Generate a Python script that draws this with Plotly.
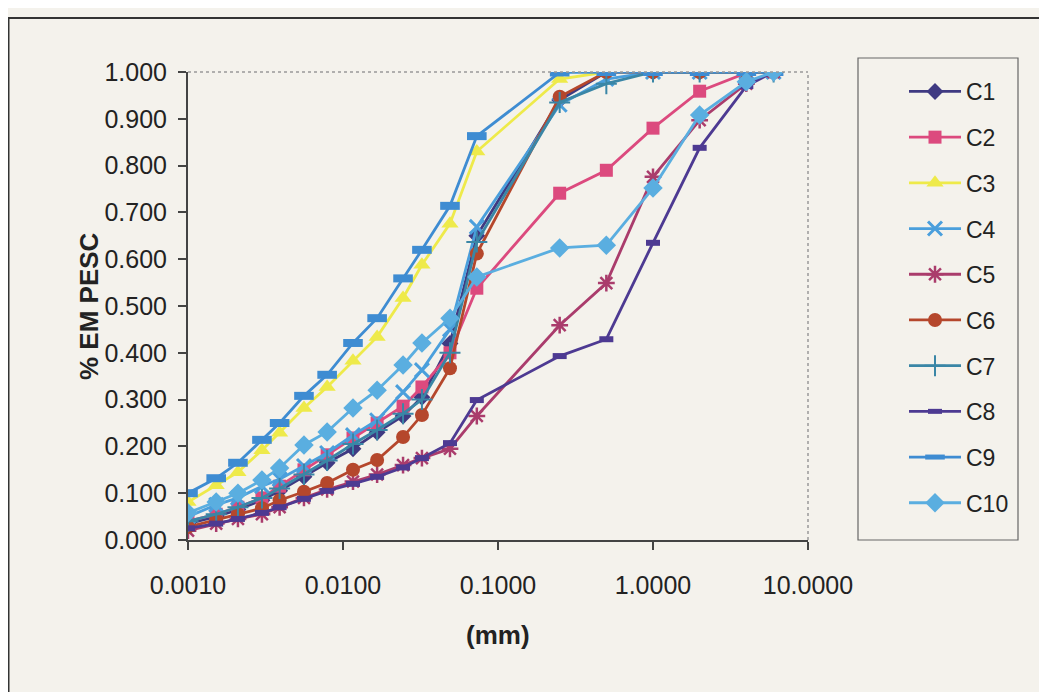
import plotly.graph_objects as go

# grain size (mm): hydrometer readings + sieve sizes
x_mm = [0.001, 0.00152, 0.0021, 0.0030, 0.0039, 0.0056, 0.0079, 0.0116, 0.0166,
        0.0244, 0.0323, 0.049, 0.073, 0.25, 0.5, 1.0, 2.0, 4.0, 6.0]

C1 = [0.035, 0.050, 0.065, 0.085, 0.105, 0.135, 0.165, 0.195, 0.230, 0.265, 0.305, 0.420, 0.650,
      0.940, 1.000, 1.000, 1.000, 1.000, 1.000]
C2 = [0.040, 0.055, 0.070, 0.090, 0.115, 0.150, 0.182, 0.218, 0.250, 0.286, 0.327, 0.400, 0.538,
      0.741, 0.790, 0.880, 0.959, 0.998, 1.000]
C3 = [0.081, 0.117, 0.145, 0.192, 0.229, 0.282, 0.327, 0.383, 0.434, 0.517, 0.588, 0.676, 0.830,
      0.985, 1.000, 1.000, 1.000, 1.000, 1.000]
C4 = [0.050, 0.075, 0.090, 0.115, 0.130, 0.158, 0.186, 0.224, 0.256, 0.316, 0.363, 0.450, 0.669,
      0.930, 0.985, 1.000, 1.000, 1.000, 1.000]
C5 = [0.020, 0.035, 0.045, 0.055, 0.070, 0.090, 0.108, 0.125, 0.140, 0.160, 0.175, 0.195, 0.265,
      0.459, 0.549, 0.776, 0.897, 0.975, 1.000]
C6 = [0.028, 0.043, 0.055, 0.068, 0.085, 0.103, 0.122, 0.150, 0.171, 0.220, 0.267, 0.367, 0.612,
      0.947, 1.000, 1.000, 1.000, 1.000, 1.000]
C7 = [0.040, 0.055, 0.070, 0.090, 0.110, 0.140, 0.170, 0.205, 0.235, 0.270, 0.300, 0.400, 0.637,
      0.935, 0.975, 1.000, 1.000, 1.000, 1.000]
C8 = [0.025, 0.035, 0.045, 0.058, 0.070, 0.088, 0.105, 0.120, 0.135, 0.155, 0.175, 0.207, 0.299,
      0.393, 0.429, 0.635, 0.838, 0.970, 1.000]
C9 = [0.100, 0.132, 0.165, 0.214, 0.250, 0.308, 0.353, 0.421, 0.474, 0.559, 0.620, 0.714, 0.863,
      0.999, 1.000, 1.000, 1.000, 1.000, 1.000]
C10 = [0.058, 0.081, 0.100, 0.128, 0.154, 0.203, 0.231, 0.282, 0.320, 0.374, 0.421, 0.474, 0.562,
       0.624, 0.630, 0.752, 0.908, 0.979, 1.000]

series_names = ["C1", "C2", "C3", "C4", "C5", "C6", "C7", "C8", "C9", "C10"]
series_values = [C1, C2, C3, C4, C5, C6, C7, C8, C9, C10]

x_tick_vals = [0.001, 0.01, 0.1, 1, 10]
x_tick_text = ["0.0010", "0.0100", "0.1000", "1.0000", "10.0000"]
y_tick_vals = [0.0, 0.1, 0.2, 0.3, 0.4, 0.5, 0.6, 0.7, 0.8, 0.9, 1.0]

styles = {
    "C1": dict(color="#3f3a82", symbol="diamond", size=13, lw=0),
    "C2": dict(color="#dc4a7e", symbol="square", size=13, lw=0),
    "C3": dict(color="#eeea4a", symbol="triangle-up", size=15, lw=0),
    "C4": dict(color="#4a9fdc", symbol="x-thin-open", size=14, lw=3),
    "C5": dict(color="#aa3c6c", symbol="asterisk-open", size=14, lw=2.5),
    "C6": dict(color="#b5472c", symbol="circle", size=14, lw=0),
    "C7": dict(color="#3a86a6", symbol="cross-thin-open", size=15, lw=2),
    "C8": dict(color="#4d3a92", symbol="line-ew-open", size=10, lw=6),
    "C9": dict(color="#3e8cd2", symbol="line-ew-open", size=14, lw=8),
    "C10": dict(color="#5aaee0", symbol="diamond", size=15, lw=0),
}

fig = go.Figure()
for name, vals in zip(series_names, series_values):
    st = styles[name]
    fig.add_trace(go.Scatter(
        x=x_mm, y=vals, name=name, mode="lines+markers", legendgroup=name,
        line=dict(color=st["color"], width=2.8),
        marker=dict(symbol=st["symbol"], size=st["size"], color=st["color"],
                    line=dict(color=st["color"], width=st["lw"])),
    ))

bg = "#f4f2ec"
font_family = "Liberation Sans, Arial, sans-serif"

# page body adds an 8px offset; plot area lands at window x 188-808, y 72-540
W, H = 1039, 684
L, T = 180, 64
PW, PH = 620, 468

def px(xw):
    return (xw - 8 - L) / PW

def py(yw):
    return (T + PH - (yw - 8)) / PH

fig.update_layout(
    width=W, height=H,
    margin=dict(l=L, r=W - L - PW, t=T, b=H - T - PH),
    paper_bgcolor=bg, plot_bgcolor=bg,
    font=dict(family=font_family, color="#222", size=24),
    showlegend=True,
    legend=dict(
        x=px(904), y=py(70), xanchor="left", yanchor="top",
        bgcolor="rgba(0,0,0,0)", borderwidth=0,
        font=dict(size=23, color="#222"),
        tracegroupgap=12.8, itemwidth=52, maxheight=640,
    ),
    xaxis=dict(
        type="log", range=[-3, 1], tickvals=x_tick_vals, ticktext=x_tick_text,
        showgrid=False, zeroline=False, showline=True, linecolor="#444", linewidth=2,
        ticks="outside", ticklen=8, tickcolor="#444", tickwidth=2,
        ticklabelstandoff=14, tickfont=dict(size=25),
    ),
    yaxis=dict(
        range=[0, 1], tickvals=y_tick_vals, tickformat=".3f",
        showgrid=False, zeroline=False, showline=True, linecolor="#444", linewidth=2,
        ticks="outside", ticklen=8, tickcolor="#444", tickwidth=2,
        ticklabelstandoff=6, tickfont=dict(size=25),
    ),
    annotations=[
        dict(text="<b>% EM PESC</b>", xref="paper", yref="paper", x=px(89), y=py(306),
             xanchor="center", yanchor="middle",
             textangle=-90, showarrow=False, font=dict(size=26)),
        dict(text="<b>(mm)</b>", xref="paper", yref="paper", x=px(498), y=py(635),
             xanchor="center", yanchor="middle",
             showarrow=False, font=dict(size=26)),
    ],
    shapes=[
        # outer chart border
        dict(type="rect", xref="paper", yref="paper", x0=px(8.5), x1=px(1040), y0=py(760), y1=py(18),
             line=dict(color="#333", width=2), layer="below"),
        # legend frame
        dict(type="rect", xref="paper", yref="paper", x0=px(858), x1=px(1018), y0=py(540), y1=py(58),
             line=dict(color="#666", width=1.2), fillcolor=bg, layer="below"),
        # plot area top/right dotted border
        dict(type="line", xref="paper", yref="paper", x0=0, x1=1, y0=1, y1=1,
             line=dict(color="#999", width=1.5, dash="dot")),
        dict(type="line", xref="paper", yref="paper", x0=1, x1=1, y0=0, y1=1,
             line=dict(color="#999", width=1.5, dash="dot")),
    ],
)

fig.write_html("out.html")
